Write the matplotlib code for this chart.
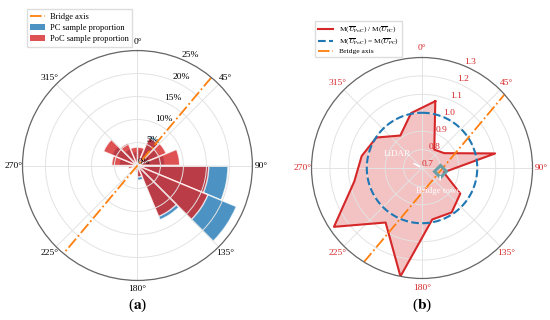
import numpy as np
import matplotlib
matplotlib.use('Agg')
import matplotlib.pyplot as plt
from matplotlib.patches import Patch
from matplotlib.lines import Line2D

plt.rcParams['font.family'] = ['Liberation Serif', 'DejaVu Serif']
plt.rcParams['mathtext.fontset'] = 'stix'

# ---------------- data ----------------
bin_start_deg = np.arange(0, 360, 22.5)          # 16 direction bins
bin_width_deg = 22.5
pc_prop = [3.5, 7.0, 5.0, 6.0, 19.7, 23.3, 12.8, 3.2,
           1.5, 0.5, 0.5, 1.0, 4.0, 6.0, 4.0, 3.0]       # % PC samples
poc_prop = [4.0, 6.5, 6.8, 9.2, 15.5, 16.6, 12.0, 2.5,
            1.2, 0.5, 1.0, 2.0, 5.6, 8.0, 5.3, 4.0]      # % PoC samples

ratio_dir_deg = bin_start_deg + 11.25
ratio_vals = [1.07, 0.82, 0.845, 1.105, 0.82, 0.95, 0.99, 0.985,
              1.30, 1.056, 1.275, 1.075, 1.034, 0.998, 0.912, 1.004]

bridge_axis_deg = 40.0
tower_theta_deg = 100.0
tower_r = 0.80

pct_ticks = [0, 5, 10, 15, 20, 25]
pct_labels = ['0%', '5%', '10%', '15%', '20%', '25%']
ratio_ticks = [0.7, 0.8, 0.9, 1.0, 1.1, 1.2, 1.3]
ratio_labels = ['0.7', '0.8', '0.9', '1.0', '1.1', '1.2', '1.3']

C_RED = '#d62728'
C_BLUE = '#1f77b4'
C_ORANGE = '#ff7f0e'
GRID = '#e3e3e3'

fig = plt.figure(figsize=(5.5, 3.2), dpi=100)

def style_polar(ax, color='black'):
    ax.set_theta_zero_location('N')
    ax.set_theta_direction(-1)
    ax.set_thetagrids(np.arange(0, 360, 45))
    ax.grid(True, color=GRID, lw=0.7)
    ax.spines['polar'].set_color('#666666')
    ax.spines['polar'].set_linewidth(0.9)
    ax.tick_params(axis='x', labelsize=6.8, pad=-4, colors=color)
    ax.tick_params(axis='y', labelsize=6.8, colors=color)

# ---------------- panel (a) ----------------
axa = fig.add_axes([0.0409, 0.1234, 0.418, 0.71875], projection='polar')
style_polar(axa)
th = np.deg2rad(bin_start_deg)
w = np.deg2rad(bin_width_deg)
axa.bar(th, pc_prop, width=w, align='edge', color=C_BLUE, alpha=0.8,
        edgecolor='white', linewidth=1.0)
axa.bar(th, poc_prop, width=w, align='edge', color=C_RED, alpha=0.8,
        edgecolor='white', linewidth=1.0)
ba = np.deg2rad(bridge_axis_deg)
axa.plot([ba, ba, ba + np.pi], [25, 0, 25], color=C_ORANGE, ls='-.', lw=1.3)
axa.set_ylim(0, 25)
axa.set_yticks(pct_ticks)
axa.set_yticklabels(pct_labels)

handles_a = [Line2D([], [], color=C_ORANGE, ls='-.', lw=1.3),
             Patch(facecolor=C_BLUE, alpha=0.8),
             Patch(facecolor=C_RED, alpha=0.8)]
axa.legend(handles_a, ['Bridge axis', 'PC sample proportion', 'PoC sample proportion'],
           loc='upper left', bbox_to_anchor=(0.02, 1.18), borderaxespad=0,
           fontsize=6.0, frameon=True, fancybox=False, framealpha=1,
           edgecolor='#dddddd', handlelength=1.7, handletextpad=0.6,
           labelspacing=0.4, borderpad=0.4)

# ---------------- panel (b) ----------------
axb = fig.add_axes([0.5664, 0.1297, 0.4018, 0.6906], projection='polar')
style_polar(axb, color=C_RED)
rth = np.deg2rad(np.append(ratio_dir_deg, ratio_dir_deg[0]))
rv = np.append(ratio_vals, ratio_vals[0])
axb.fill(rth, rv, color=C_RED, alpha=0.28, lw=0)
axb.plot(rth, rv, color=C_RED, lw=1.5)
circ = np.linspace(0, 2 * np.pi, 361)
axb.plot(circ, np.ones_like(circ), color=C_BLUE, ls='--', lw=1.5)

# bridge axis through the bridge tower (straight line in the plane)
rmin, rmax = 0.7, 1.3
rho_t = (tower_r - rmin) / (rmax - rmin)
tt = np.deg2rad(tower_theta_deg)
tx, ty = rho_t * np.sin(tt), rho_t * np.cos(tt)
dx, dy = np.sin(ba), np.cos(ba)
td = tx * dx + ty * dy
disc = np.sqrt(td ** 2 - (tx ** 2 + ty ** 2) + 1)
s = np.linspace(-td - disc, -td + disc, 400)
lx, ly = tx + s * dx, ty + s * dy
axb.plot(np.arctan2(lx, ly), rmin + (rmax - rmin) * np.hypot(lx, ly),
         color=C_ORANGE, ls='-.', lw=1.3)

axb.plot([tt], [tower_r], marker='D', ms=6, mfc='none', mec='#6a9ea6', mew=2.2)
axb.annotate('Bridge tower', xy=(tt, tower_r), xytext=(0, -14),
             textcoords='offset points', ha='center', va='center',
             color='white', fontsize=6.5,
             arrowprops=dict(arrowstyle='-', color='white', lw=1.2,
                             shrinkA=3, shrinkB=4))
axb.annotate('LiDAR', xy=(0, rmin), xytext=(-18, 10),
             textcoords='offset points', ha='center', va='center',
             color='white', fontsize=6.5,
             arrowprops=dict(arrowstyle='-', color='white', lw=1.2,
                             shrinkA=4, shrinkB=2))

axb.set_ylim(rmin, rmax)
axb.set_yticks(ratio_ticks)
axb.set_yticklabels(ratio_labels)

handles_b = [Line2D([], [], color=C_RED, lw=1.5),
             Line2D([], [], color=C_BLUE, ls='--', lw=1.5),
             Line2D([], [], color=C_ORANGE, ls='-.', lw=1.3)]
axb.legend(handles_b,
           [r'M($\overline{U}_{\mathrm{PoC}}$) / M($\overline{U}_{\mathrm{PC}}$)',
            r'M($\overline{U}_{\mathrm{PoC}}$) = M($\overline{U}_{\mathrm{PC}}$)',
            'Bridge axis'],
           loc='upper left', bbox_to_anchor=(0.016, 1.165), borderaxespad=0,
           fontsize=5.4, frameon=True, fancybox=False, framealpha=1,
           edgecolor='#dddddd', handlelength=2.0, labelspacing=0.2,
           borderpad=0.4)

fig.text(0.251, 0.045, r'($\mathbf{a}$)', ha='center', va='center', fontsize=11)
fig.text(0.767, 0.045, r'($\mathbf{b}$)', ha='center', va='center', fontsize=11)

fig.savefig('out.png', dpi=100)
